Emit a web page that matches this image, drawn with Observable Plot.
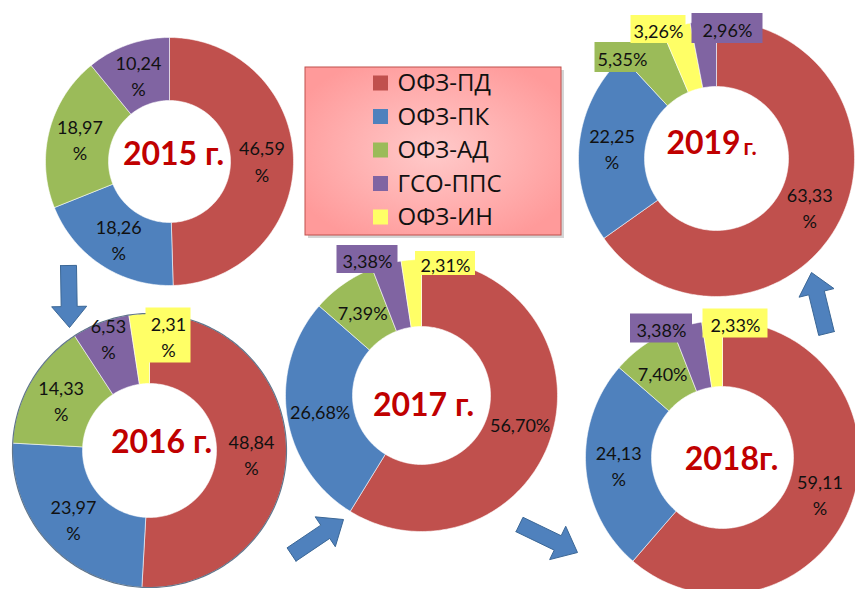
<!DOCTYPE html>
<html><head><meta charset="utf-8">
<script src="https://cdn.jsdelivr.net/npm/d3@7"></script>
<script src="https://cdn.jsdelivr.net/npm/@observablehq/plot@0.6"></script>
<style>body{margin:0;background:#fff} #chart{width:855px;height:589px}</style>
</head><body><div id="chart"></div>
<script>
// ---- data ----
const categories = ["ОФЗ-ПД", "ОФЗ-ПК", "ОФЗ-АД", "ГСО-ППС", "ОФЗ-ИН"];
const colors = ["#C0504D", "#4F81BD", "#9BBB59", "#8064A2", "#FFFF66"];
const years = ["2015", "2016", "2017", "2018", "2019"];
const yearSuffix = [" г.", " г.", " г.", "г.", " г."];
const values2015 = [46.59, 18.26, 18.97, 10.24, null];
const values2016 = [48.84, 23.97, 14.33, 6.53, 2.31];
const values2017 = [56.70, 26.68, 7.39, 3.38, 2.31];
const values2018 = [59.11, 24.13, 7.40, 3.38, 2.33];
const values2019 = [63.33, 22.25, 5.35, 2.96, 3.26];

// ---- layout ----
const donuts = [
  {values: values2015, cx: 169, cy: 161, R: 124, r: 61, order: [0,1,2,3], oneLine: [],
   place: {}, year: {x: 173, y: 154}},
  {values: values2016, cx: 149, cy: 450, R: 137, r: 67, order: [0,1,2,3,4], oneLine: [],
   place: {3: {x: 108, y: 337}, 4: {x: 168, y: 335, w: 45, h: 55}}, outline: "#61768c", year: {x: 161, y: 442}},
  {values: values2017, cx: 421, cy: 395, R: 136, r: 69, order: [0,1,2,3,4], oneLine: [0,1,2,3,4],
   place: {3: {x: 367, y: 259, w: 61, h: 28}, 4: {x: 445, y: 263, w: 60, h: 24}}, year: {x: 423, y: 405}},
  {values: values2018, cx: 722, cy: 457, R: 137, r: 71, order: [0,1,2,3,4], oneLine: [2,3,4],
   place: {3: {x: 661, y: 328, w: 62, h: 29}, 4: {x: 735, y: 323, w: 65, h: 29}}, year: {x: 731, y: 459}},
  {values: values2019, cx: 716, cy: 158, R: 138, r: 72, order: [0,1,2,4,3], oneLine: [2,3,4],
   place: {2: {x: 622, y: 57, w: 55, h: 30}, 4: {x: 658, y: 29, w: 55, h: 28}, 3: {x: 727, y: 28, w: 71, h: 30}},
   year: {x: 703, y: 143, split: true}}
];
const arrows = [
  {x1: 68, y1: 265, x2: 69, y2: 327, shaft: 16, head: 35, headLen: 21},
  {x1: 291, y1: 554, x2: 343, y2: 519, shaft: 16, head: 36, headLen: 22},
  {x1: 519, y1: 524, x2: 577, y2: 552, shaft: 16, head: 37, headLen: 22},
  {x1: 826, y1: 333, x2: 811, y2: 272, shaft: 16, head: 36, headLen: 21}
];
const legendBox = {x1: 305, x2: 561, y1: 67, y2: 235};
const legendRow0 = 83, legendStep = 33.5, legendSquareX = 373, legendTextX = 397;

const fmt = v => d3.format(".2f")(v).replace(".", ",");
const font = "Lato, 'Noto Sans', sans-serif";

const sliceMarks = [];
const boxes = [];
const labels = [];
const yearTexts = [];
const yearSmall = [];
const outlines = [];

donuts.forEach((d, k) => {
  const pie = d3.pie().sort(null).value(i => d.values[i])(d.order);
  pie.forEach(p => {
    const i = p.data;
    const a0 = p.startAngle, a1 = p.endAngle;
    const n = Math.max(2, Math.ceil((a1 - a0) / 0.02));
    const pts = [];
    for (let j = 0; j <= n; j++) {
      const a = a0 + (a1 - a0) * j / n;
      pts.push({x: d.cx + d.R * Math.sin(a), y: d.cy - d.R * Math.cos(a)});
    }
    for (let j = n; j >= 0; j--) {
      const a = a0 + (a1 - a0) * j / n;
      pts.push({x: d.cx + d.r * Math.sin(a), y: d.cy - d.r * Math.cos(a)});
    }
    pts.push(pts[0]);
    sliceMarks.push(Plot.line(pts, {x: "x", y: "y", fill: colors[i], stroke: "#ffffff", strokeWidth: 0.7, strokeOpacity: 0.8}));
    const mid = (a0 + a1) / 2, rm = (d.R + d.r) / 2;
    const pl = d.place[i];
    const x = pl ? pl.x : d.cx + rm * Math.sin(mid);
    const y = pl ? pl.y : d.cy - rm * Math.cos(mid);
    const text = fmt(d.values[i]) + (d.oneLine.includes(i) ? "%" : "\n%");
    if (pl && pl.w) boxes.push({x1: x - pl.w / 2, x2: x + pl.w / 2, y1: y - pl.h / 2, y2: y + pl.h / 2, fill: colors[i]});
    labels.push({x, y, text});
  });
  if (d.outline) {
    const pts = d3.range(0, 361).map(t => ({x: d.cx + d.R * Math.sin(t * Math.PI / 180), y: d.cy - d.R * Math.cos(t * Math.PI / 180)}));
    outlines.push(Plot.line(pts, {x: "x", y: "y", stroke: d.outline, strokeWidth: 1.2}));
  }
  if (d.year.split) {
    yearTexts.push({x: d.year.x, y: d.year.y, text: years[k]});
    yearSmall.push({x: d.year.x + 40, y: d.year.y + 4, text: yearSuffix[k].trim()});
  } else {
    yearTexts.push({x: d.year.x, y: d.year.y, text: years[k] + yearSuffix[k]});
  }
});

const arrowMarks = arrows.map(a => {
  const dx = a.x2 - a.x1, dy = a.y2 - a.y1, L = Math.hypot(dx, dy);
  const ux = dx / L, uy = dy / L, nx = -uy, ny = ux;
  const bx = a.x2 - ux * a.headLen, by = a.y2 - uy * a.headLen;
  const s = a.shaft / 2, h = a.head / 2;
  const pts = [
    {x: a.x1 + nx * s, y: a.y1 + ny * s},
    {x: bx + nx * s, y: by + ny * s},
    {x: bx + nx * h, y: by + ny * h},
    {x: a.x2, y: a.y2},
    {x: bx - nx * h, y: by - ny * h},
    {x: bx - nx * s, y: by - ny * s},
    {x: a.x1 - nx * s, y: a.y1 - ny * s}
  ];
  pts.push(pts[0]);
  return Plot.line(pts, {x: "x", y: "y", fill: "#4F81BD", stroke: "#3B6796", strokeWidth: 1});
});

const legendRows = categories.map((c, i) => ({
  label: c, color: colors[i], y: legendRow0 + i * legendStep
}));

const chart = Plot.plot({
  width: 855, height: 589, margin: 0,
  x: {type: "identity", axis: null},
  y: {type: "identity", axis: null},
  color: {type: "identity"},
  style: {background: "#ffffff", fontFamily: font},
  marks: [
    ...sliceMarks,
    ...outlines,
    Plot.rect(boxes, {x1: "x1", x2: "x2", y1: "y1", y2: "y2", fill: "fill"}),
    Plot.text(labels, {x: "x", y: "y", text: "text", fontSize: 18, lineHeight: 1.45, fill: "#111", fontFamily: font}),
    Plot.text(yearTexts, {x: "x", y: "y", text: "text", fontSize: 32, fontWeight: "bold", fill: "#C00000", fontFamily: font}),
    Plot.text(yearSmall, {x: "x", y: "y", text: "text", fontSize: 22, fontWeight: "bold", fill: "#C00000", fontFamily: font, textAnchor: "start"}),
    ...arrowMarks,
    Plot.rect([legendBox], {x1: d => d.x1 + 3, x2: d => d.x2 + 3, y1: d => d.y1 + 3, y2: d => d.y2 + 3, fill: "#888", fillOpacity: 0.35}),
    Plot.rect([legendBox], {x1: "x1", x2: "x2", y1: "y1", y2: "y2", fill: "url(#legendGrad)", stroke: "#C0504D", strokeWidth: 1}),
    Plot.rect(legendRows, {x1: legendSquareX, x2: legendSquareX + 15, y1: d => d.y - 7.5, y2: d => d.y + 7.5, fill: "color"}),
    Plot.text(legendRows, {x: legendTextX, y: "y", text: "label", textAnchor: "start", fontSize: 24, fill: "#111", fontFamily: "'Open Sans', 'Noto Sans', sans-serif"})
  ]
});
chart.insertAdjacentHTML("afterbegin",
  '<defs><radialGradient id="legendGrad" cx="50%" cy="50%" r="60%">' +
  '<stop offset="0%" stop-color="#FFCACA"/><stop offset="100%" stop-color="#FF9A9A"/></radialGradient></defs>');
document.getElementById("chart").appendChild(chart);
</script>
</body></html>
